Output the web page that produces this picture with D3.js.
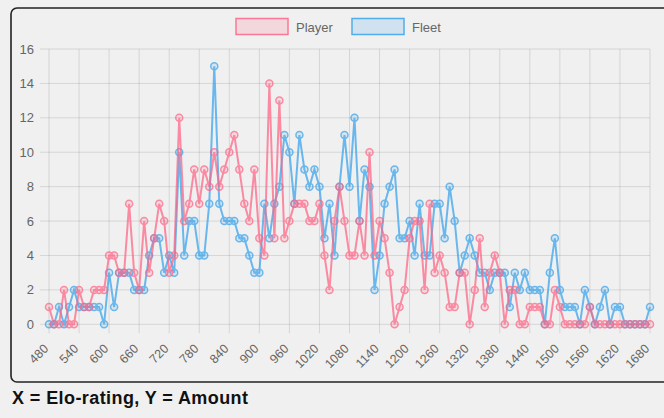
<!DOCTYPE html>
<html><head><meta charset="utf-8">
<script src="https://cdn.jsdelivr.net/npm/d3@7"></script>
<style>
html,body{margin:0;padding:0;background:#f0f0f0;}
svg{display:block;}
</style></head>
<body>
<svg id="c" width="664" height="418"></svg>
<script>
// ---- data ----
const ratings = d3.range(480, 1681, 10); // x categories (Elo-rating)
const tickLabels = d3.range(480, 1681, 60);
const yTicks = [0,2,4,6,8,10,12,14,16];
const player = [1,0,0,2,0,0,2,1,1,2, 2,2,4,4,3,3,7,3,2,6, 3,5,7,6,3,4,12,6,7,9, 7,9,8,10,8,9,10,11,9,7,
 6,9,5,4,14,5,13,5,6,7, 7,7,6,6,7,4,2,6,8,6, 4,4,6,4,10,4,6,5,3,0, 1,2,5,6,6,2,7,3,4,3,
 1,1,3,3,0,2,5,1,3,4, 3,0,2,2,0,0,1,1,1,0, 0,2,1,0,0,0,0,0,1,0, 0,0,0,0,0,0,0,0,0,0, 0];
const fleet = [0,0,1,0,1,2,1,1,1,1, 1,0,3,1,3,3,3,2,2,2, 4,5,5,3,4,3,10,4,6,6, 4,4,7,15,7,6,6,6,5,5,
 4,3,3,7,5,7,8,11,10,7, 11,9,8,9,8,5,7,4,8,11, 8,12,6,9,8,2,4,7,8,9, 5,5,6,4,7,4,4,7,7,5,
 8,6,3,4,5,4,3,3,2,3, 3,3,1,3,2,3,2,2,2,0, 3,5,2,1,1,1,0,2,1,0, 1,2,0,1,1,0,0,0,0,0, 1];
const series = [
  {name:"Fleet", values:fleet, color:"rgb(54,162,235)", fill:"rgba(54,162,235,0.2)"},
  {name:"Player", values:player, color:"rgb(255,99,132)", fill:"rgba(255,99,132,0.2)"}
];

const svg = d3.select("#c");
const font = "'Liberation Sans', Arial, Helvetica, sans-serif";

// outer frame
svg.append("rect").attr("x",11).attr("y",8).attr("width",670).attr("height",374)
  .attr("rx",6).attr("fill","#f0f0f0").attr("stroke","#222").attr("stroke-width",1.6);

const x = d3.scaleLinear().domain([480,1680]).range([49,650]);
const y = d3.scaleLinear().domain([0,16]).range([324.3,49]);

// grid
const g = svg.append("g");
g.selectAll("line.h").data(yTicks).join("line")
  .attr("x1",40).attr("x2",650).attr("y1",d=>y(d)).attr("y2",d=>y(d))
  .attr("stroke","rgba(0,0,0,0.11)").attr("stroke-width",1);
g.selectAll("line.v").data(tickLabels).join("line")
  .attr("x1",d=>x(d)).attr("x2",d=>x(d)).attr("y1",y(16)).attr("y2",y(0)+9)
  .attr("stroke","rgba(0,0,0,0.11)").attr("stroke-width",1);

// y labels
g.selectAll("text.y").data(yTicks).join("text")
  .attr("x",34).attr("y",d=>y(d)).attr("dy","0.35em").attr("text-anchor","end")
  .attr("font-family",font).attr("font-size",13).attr("fill","#666").text(d=>d);

// x labels
g.selectAll("text.x").data(tickLabels).join("text")
  .attr("transform",d=>`translate(${x(d)-3},${y(0)+22}) rotate(-45)`)
  .attr("text-anchor","end").attr("dy","0.35em")
  .attr("font-family",font).attr("font-size",12.5).attr("fill","#666").text(d=>d);

// lines and points
const line = d3.line().x((d,i)=>x(ratings[i])).y(d=>y(d));
series.forEach(s=>{
  const gs = svg.append("g").attr("opacity",0.72);
  gs.append("path").attr("d",line(s.values)).attr("fill","none")
    .attr("stroke",s.color).attr("stroke-width",2);
  gs.selectAll("circle").data(s.values).join("circle")
    .attr("cx",(d,i)=>x(ratings[i])).attr("cy",d=>y(d)).attr("r",3.5)
    .attr("fill",s.fill).attr("stroke",s.color).attr("stroke-width",1.5);
});

// legend
const legend = [
  {name:"Player", color:"rgb(255,99,132)", fill:"rgba(255,99,132,0.2)", x:236},
  {name:"Fleet", color:"rgb(54,162,235)", fill:"rgba(54,162,235,0.2)", x:352}
];
legend.forEach(l=>{
  svg.append("rect").attr("x",l.x).attr("y",18.5).attr("width",52).attr("height",16)
    .attr("fill",l.fill).attr("stroke",l.color).attr("stroke-width",1.5).attr("opacity",0.85);
  svg.append("text").attr("x",l.x+60).attr("y",27).attr("dy","0.35em")
    .attr("font-family",font).attr("font-size",13).attr("fill","#666").text(l.name);
});

// caption
svg.append("text").attr("x",12).attr("y",404)
  .attr("font-family",font).attr("font-size",18).attr("font-weight","bold")
  .attr("fill","#111").attr("textLength",236).attr("lengthAdjust","spacing")
  .text("X = Elo-rating, Y = Amount");
</script>
</body></html>
